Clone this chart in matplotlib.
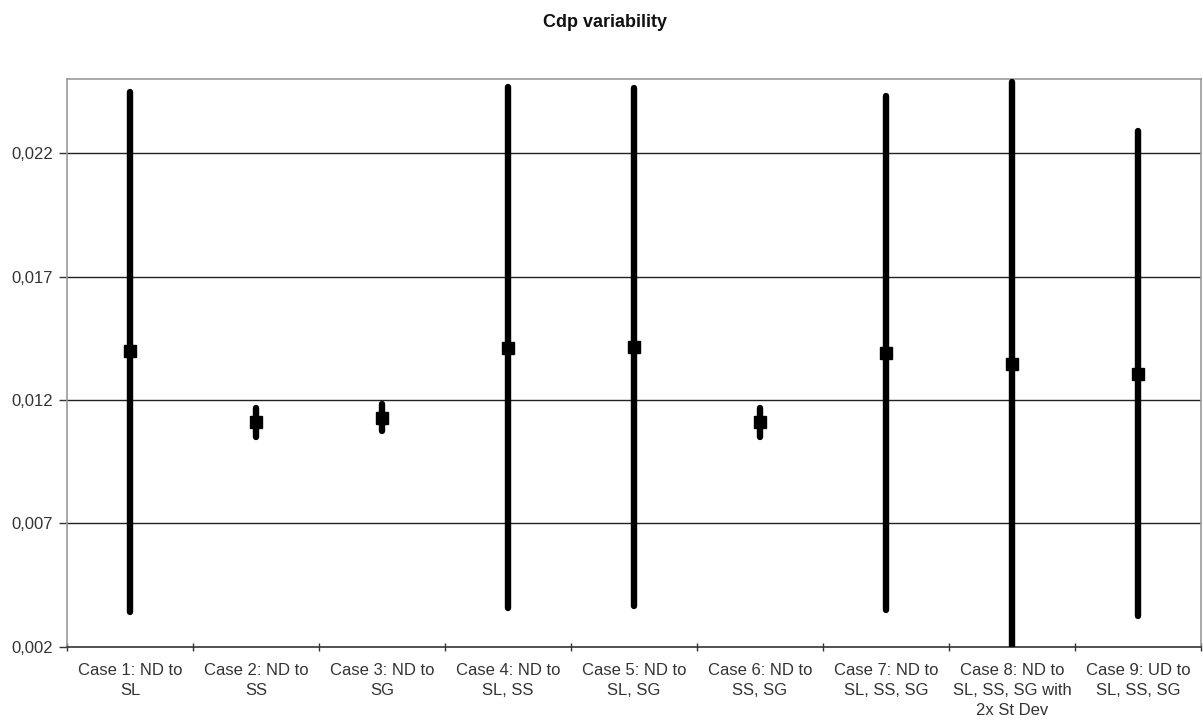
import matplotlib
matplotlib.use("Agg")
import matplotlib.pyplot as plt
import numpy as np

plt.rcParams['font.family'] = ['Liberation Sans', 'DejaVu Sans']

categories = ["Case 1: ND to\nSL", "Case 2: ND to\nSS", "Case 3: ND to\nSG",
              "Case 4: ND to\nSL, SS", "Case 5: ND to\nSL, SG", "Case 6: ND to\nSS, SG",
              "Case 7: ND to\nSL, SS, SG", "Case 8: ND to\nSL, SS, SG with\n2x St Dev",
              "Case 9: UD to\nSL, SS, SG"]
means = [0.01400, 0.01112, 0.01128, 0.01412, 0.01415, 0.01112, 0.01389, 0.01346, 0.01305]
highs = [0.02449, 0.01166, 0.01185, 0.02468, 0.02464, 0.01166, 0.02432, 0.02490, 0.02289]
lows = [0.00342, 0.01050, 0.01074, 0.00355, 0.00363, 0.01050, 0.00347, 0.00200, 0.00325]
yticks = [0.002, 0.007, 0.012, 0.017, 0.022]
ytick_labels = ["0,002", "0,007", "0,012", "0,017", "0,022"]

fig = plt.figure(figsize=(12.03, 7.2), dpi=100)
ax = fig.add_axes([67/1203, 1-646.7/720, (1201-67)/1203, (646.7-79.3)/720])

x = np.arange(len(categories))
ax.set_xlim(-0.5, len(categories) - 0.5)
ax.set_ylim(0.002, 0.025)

for yv in yticks[1:]:
    ax.axhline(yv, color='#222222', lw=1.0, zorder=1)

lc = ax.vlines(x, lows, highs, colors='black', linewidth=4.6, zorder=3)
lc.set_capstyle('round')
ax.plot(x, means, linestyle='none', marker='s', markersize=8, color='black', zorder=4)

ax.set_yticks(yticks)
ax.set_yticklabels(ytick_labels, fontsize=12, color='#333333')
ax.set_xticks(np.arange(-0.5, len(categories), 1.0))
ax.set_xticklabels([])
ax.set_xticks(x, minor=True)
ax.set_xticklabels(categories, minor=True, fontsize=12, color='#333333', linespacing=1.4)
ax.tick_params(axis='x', which='minor', length=0, pad=12)
ax.tick_params(axis='x', which='major', length=6, width=1, color='#333333', direction='inout')
ax.tick_params(axis='y', length=6, width=1, color='#333333', direction='out', pad=4)

for s in ['left', 'top', 'right']:
    ax.spines[s].set_color('#999999')
    ax.spines[s].set_linewidth(1.2)
ax.spines['bottom'].set_color('#333333')
ax.spines['bottom'].set_linewidth(1.2)

fig.text(605/1203, 1-27/720, "Cdp variability", ha='center', va='baseline',
         fontsize=13, fontweight='bold', color='#111111')

fig.savefig("out.png", dpi=100, facecolor='white')
